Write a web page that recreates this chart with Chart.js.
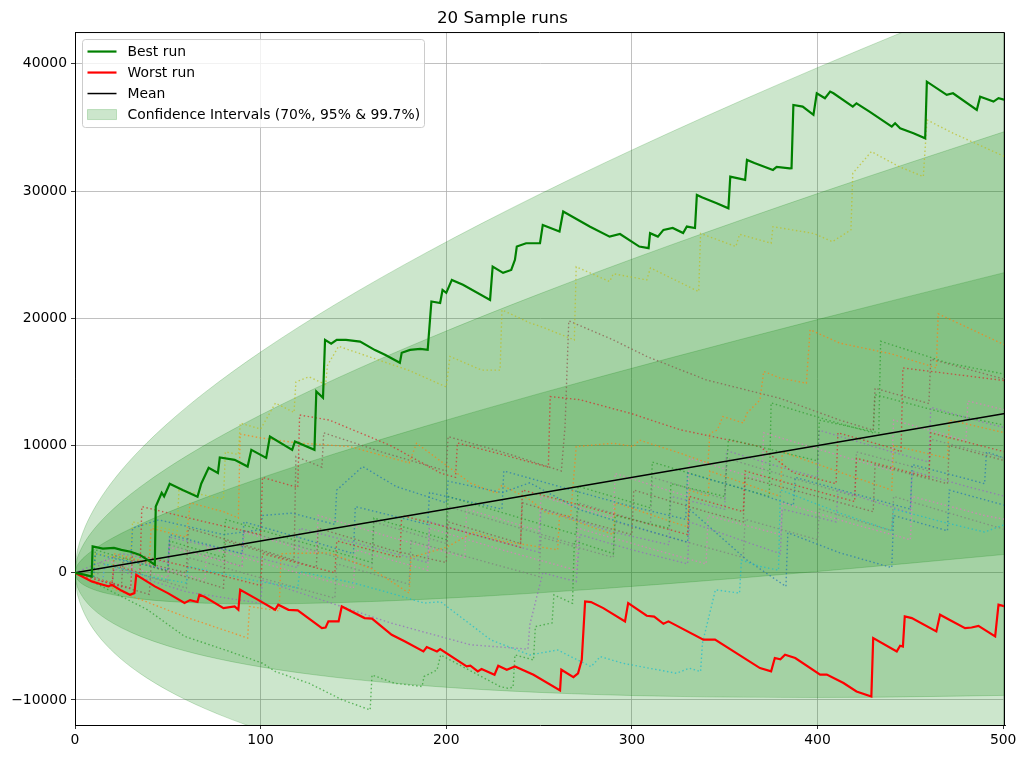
<!DOCTYPE html>
<html>
<head>
<meta charset="utf-8">
<title>20 Sample runs</title>
<script src="https://cdn.jsdelivr.net/npm/chart.js@4.4.1/dist/chart.umd.min.js"></script>
<style>
  html, body { margin: 0; padding: 0; background: #fff; }
  #wrap { width: 1026px; height: 759px; }
</style>
</head>
<body>
<div id="wrap"><canvas id="runsChart" width="1026" height="759"></canvas></div>
<script>
// axis ticks / limits
var xTicks = [0, 100, 200, 300, 400, 500];
var yTicks = [-10000, 0, 10000, 20000, 30000, 40000];
var xMax = 501;
var yMin = -11965;
var yMax = 42500;

// mean line
var meanX = [0, 501];
var meanY = [0, 12525];

// confidence bands
var bandX   = [0, 1, 2, 3, 5, 8, 12, 17, 25, 35, 50, 70, 100, 140, 190, 250, 320, 400, 500, 501];
var ci70Hi  = [0, 520, 750, 932, 1232, 1600, 2015, 2466, 3100, 3803, 4750, 5892, 7450, 9357, 11573, 14077, 16855, 19900, 23569, 23605];
var ci70Lo  = [0, -470, -650, -782, -982, -1200, -1415, -1616, -1850, -2053, -2250, -2392, -2450, -2357, -2073, -1577, -855, 100, 1431, 1445];
var ci95Hi  = [0, 1015, 1450, 1789, 2339, 3000, 3730, 4507, 5575, 6731, 8250, 10034, 12400, 15214, 18396, 21904, 25710, 29800, 34638, 34685];
var ci95Lo  = [0, -965, -1350, -1639, -2089, -2600, -3130, -3657, -4325, -4981, -5750, -6534, -7400, -8214, -8896, -9404, -9710, -9800, -9638, -9635];
var ci997Hi = [0, 1510, 2150, 2646, 3446, 4400, 5445, 6548, 8050, 9659, 11750, 14176, 17350, 21071, 25219, 29731, 34565, 39700, 45707, 45765];
var ci997Lo = [0, -1460, -2050, -2496, -3196, -4000, -4845, -5698, -6800, -7909, -9250, -10676, -12350, -14071, -15719, -17231, -18565, -19700, -20707, -20715];

// best / worst run  [step, value]
var bestRun = [[0,0],[5,-150],[9,-300],[9.5,2070],[15,1900],[21,1960],[25,1800],[30,1650],[35,1400],[43,630],[43.5,5210],[46.7,6290],[48,6000],[51,7000],[58,6500],[66,5970],[68,7000],[72,8250],[77,7850],[78,9060],[86,8880],[93,8350],[95,9660],[103,9030],[105,10710],[117,9660],[118.5,10320],[129,9660],[130,14250],[133.6,13750],[134.7,18300],[138,18000],[141,18300],[146,18300],[153.6,18170],[161.6,17500],[167,17130],[175,16500],[176,17290],[180.5,17520],[186,17600],[190,17520],[192,21320],[196.7,21200],[198,22230],[200,22000],[203,23020],[209,22630],[223.6,21450],[225,24070],[230.6,23570],[235,23800],[237,24600],[238,25640],[243,25900],[250.5,25900],[252,27340],[261,26820],[263,28390],[277.5,27200],[288,26420],[293.6,26630],[304,25640],[309,25510],[309.8,26690],[314,26420],[317,26950],[322,27100],[327.6,26700],[329.6,27210],[334,27100],[335,29700],[338,29500],[345.7,29050],[352,28650],[353,31140],[361,30880],[362,32450],[366,32200],[376,31660],[378,31900],[385,31790],[386,31800],[387,36770],[392,36640],[397.8,35990],[399.6,37690],[404,37300],[406.8,37820],[408.6,37690],[419,36640],[421,36900],[428,36250],[440,35070],[441.8,35330],[444.5,34940],[451.7,34550],[458,34150],[458.9,38600],[469.6,37560],[473,37690],[485.8,36380],[487.6,37420],[490,37300],[494.8,37030],[497.5,37300],[501,37160]];
var worstRun = [[0,0],[9,-680],[14,-900],[18,-1070],[19.8,-940],[25,-1400],[29.6,-1730],[32,-1600],[33,-160],[43,-1070],[50,-1600],[59,-2380],[62,-2150],[66,-2300],[67,-1730],[70,-1900],[80,-2780],[86,-2650],[88,-2910],[89,-1340],[97,-1990],[107.8,-2910],[109.5,-2510],[115,-2910],[120,-2950],[133,-4350],[135,-4300],[136.5,-3820],[142,-3820],[143.7,-2650],[156,-3560],[160,-3600],[170.6,-4870],[177.8,-5400],[187.7,-6180],[189.5,-5840],[195,-6180],[196.7,-6000],[211,-7360],[213,-7300],[217,-7750],[219,-7570],[226,-8010],[228,-7310],[232.6,-7620],[237,-7360],[247,-8010],[261.3,-9250],[262,-7620],[268.5,-8200],[271,-7900],[273,-6840],[274.8,-2250],[278,-2300],[284.6,-2780],[296.3,-3820],[298,-2380],[308,-3380],[312,-3450],[317,-4010],[319.7,-3820],[338.5,-5260],[344.8,-5260],[369,-7490],[375,-7750],[377,-6700],[380,-6800],[382.5,-6440],[388,-6700],[401.4,-8010],[405,-8000],[414,-8670],[421,-9330],[429,-9720],[430,-5130],[442.7,-6180],[444.5,-5740],[446,-5800],[447,-3430],[450.8,-3560],[464,-4610],[466,-3300],[471,-3690],[479.5,-4350],[483,-4300],[486.7,-4170],[495.7,-5000],[497.5,-2510],[501,-2650]];

// the other 18 sample runs (dotted)
var run01 = [[0,0],[10,-250],[11,1500],[30,1000],[31,4000],[55,3300],[56,6500],[80,5800],[81,9500],[88,9300],[89,11760],[100,11300],[108,13340],[118,12600],[119,15000],[126,15400],[135,14800],[136,16300],[142,17800],[180,15900],[200,14600],[202,17000],[219,15930],[229,15930],[230,20660],[245,19640],[251,19350],[269,18300],[270,24050],[288,22890],[290,23500],[308,23020],[310,23960],[336,22100],[337,26670],[356,25640],[358,26600],[375,25900],[376,27200],[398,26670],[408,26020],[418,26950],[419,31400],[429,33100],[444,31920],[457,31140],[459,35590],[473,34550],[501,32700]];
var run02 = [[0,0],[20,-800],[21,1500],[40,800],[41,3500],[60,2800],[62,5500],[80,4800],[88,4300],[89,10900],[100,10600],[120,10200],[148,9920],[180,8640],[184,10180],[213,7050],[227,6260],[230,6900],[245,5740],[254,4690],[267,4430],[270,9920],[290,10180],[301,9920],[304,10430],[326,9400],[341,8630],[342,10960],[346,11220],[349,12280],[360,11780],[362,12550],[369,13580],[371,15820],[380,15300],[394,14900],[396,19100],[412,18050],[440,17200],[464,16100],[465,20350],[501,17900]];
var run03 = [[0,0],[39,-2900],[59,-5000],[81,-6070],[101,-7110],[108,-7770],[126,-8680],[144,-9990],[159,-10780],[160,-8030],[172,-8680],[187,-8940],[188,-8160],[195,-7640],[197,-6460],[229,-8940],[233,-9070],[236,-9000],[237,-6460],[247,-6850],[248,-4230],[257,-3940],[258,-1740],[268,-2400],[269,2500],[290,1500],[291,4500],[320,3500],[321,7000],[350,6000],[352,10500],[380,9500],[400,8800],[401,12000],[433,11000],[434,18200],[470,16500],[501,15600]];
var run04 = [[0,0],[15,-600],[16,700],[40,-300],[60,-800],[61,500],[90,-400],[100,-700],[120,-1200],[121,100],[150,-800],[170,-1600],[188,-2380],[197,-2280],[224,-5280],[245,-6460],[260,-6070],[278,-7380],[283,-6590],[295,-7110],[324,-7900],[331,-7500],[337,-7770],[338,-5540],[345,-1340],[358,-1600],[359,1000],[369,500],[379,200],[380,6520],[412,4690],[440,3300],[441,5000],[470,3900],[490,3200],[501,3800]];
var run05 = [[0,0],[20,-900],[21,600],[35,0],[36,5200],[70,4000],[100,3000],[101,7500],[120,6700],[121,12400],[137,12000],[170,10000],[197,7830],[205,7500],[206,10200],[230,9300],[255,8300],[256,13850],[272,13600],[300,12500],[326,11240],[369,9920],[387,7860],[410,7000],[411,11000],[440,9800],[445,9500],[446,16100],[501,15100]];
var run06 = [[0,0],[30,-1200],[31,1500],[60,500],[100,-1000],[101,1500],[140,0],[141,2500],[175,1200],[176,4500],[200,3600],[240,2000],[241,6500],[270,5400],[300,4200],[330,3000],[331,6000],[360,4800],[361,8000],[390,6800],[420,5600],[421,9000],[460,7500],[461,11000],[501,9500]];
var run07 = [[0,0],[10,-400],[11,1500],[30,800],[31,3500],[45,4160],[80,3000],[100,3380],[101,4500],[117,4690],[140,3800],[141,6500],[155,8350],[173,6780],[200,5500],[201,7200],[230,6300],[245,7070],[272,4950],[301,3640],[330,2400],[331,5000],[362,1000],[383,-1080],[384,3140],[412,1570],[440,400],[441,4500],[470,3300],[471,6500],[501,5300]];
var run08 = [[0,0],[20,-800],[21,1200],[50,200],[51,3000],[90,1500],[91,4000],[120,2800],[150,1500],[151,5200],[190,3800],[191,6300],[230,5000],[231,8000],[280,6000],[300,5200],[329,4200],[330,7830],[360,6600],[387,5300],[388,7500],[420,6200],[450,5000],[451,8500],[480,7400],[490,7000],[491,9500],[501,9000]];
var run09 = [[0,0],[30,-1800],[60,-3500],[93,-5130],[94,-2650],[110,-3000],[111,1500],[137,1570],[160,300],[180,-1600],[181,1200],[200,2000],[215,3200],[230,2500],[260,1800],[261,4500],[290,3000],[291,5500],[330,3600],[331,6500],[341,6000],[342,8000],[380,6000],[381,9500],[420,7500],[440,6500],[441,10000],[470,9000],[471,12000],[501,11000]];
var run10 = [[0,0],[20,-900],[21,300],[60,-1500],[100,-2400],[101,-600],[130,-2000],[170,-3940],[213,-5660],[244,-6000],[245,-4090],[252,0],[270,-700],[272,3000],[300,1800],[330,700],[331,4000],[360,2500],[380,1500],[381,5000],[410,4000],[411,6500],[450,4700],[451,8000],[480,6800],[501,6000]];
var run11 = [[0,0],[25,1500],[50,800],[51,2800],[90,1500],[120,400],[121,3500],[160,2000],[190,800],[191,4000],[220,2800],[250,1600],[251,5000],[290,3200],[320,2200],[321,6000],[350,5000],[351,9600],[380,8300],[400,7500],[401,11200],[440,9500],[460,8700],[461,13000],[490,11800],[501,11400]];
var run12 = [[0,0],[25,-1100],[26,1200],[60,0],[61,3500],[100,1800],[118,1000],[119,9140],[133,8300],[134,11000],[165,9500],[200,8000],[201,10700],[230,9500],[262,8000],[264,11500],[266,19800],[290,18300],[308,17000],[340,15160],[380,13700],[412,12000],[430,11200],[431,14500],[460,13300],[461,16800],[501,15200]];
var run13 = [[0,0],[40,-1700],[41,500],[80,-1200],[81,2500],[130,400],[131,3500],[170,1800],[200,800],[201,4000],[240,2300],[241,5500],[280,3800],[300,3000],[301,6500],[340,4800],[360,4000],[361,7500],[400,6000],[430,4800],[431,8500],[470,7000],[471,10000],[501,8800]];
var run14 = [[0,0],[15,-600],[16,1000],[50,-400],[51,2000],[90,500],[91,3200],[130,1500],[131,4500],[170,2800],[210,1200],[211,5000],[250,3300],[251,6000],[290,4300],[291,7800],[330,6000],[331,9000],[370,7300],[371,11000],[410,9300],[440,8000],[441,12000],[480,10400],[481,13500],[501,12800]];
var run15 = [[0,0],[30,-1300],[31,1000],[70,-600],[71,2000],[110,400],[150,-1200],[151,1800],[190,200],[191,3500],[230,1800],[270,200],[271,3500],[310,1900],[340,700],[341,4500],[380,3000],[381,5500],[420,3800],[450,2600],[451,6000],[490,4500],[501,4200]];
var run16 = [[0,0],[20,-900],[21,500],[60,-1200],[61,1200],[100,-400],[140,-2000],[141,700],[180,-900],[181,2500],[220,900],[250,-300],[251,2800],[290,1200],[291,4000],[330,2400],[360,1200],[361,4200],[400,2600],[401,5000],[440,3300],[441,6000],[480,4300],[501,3400]];
var run17 = [[0,0],[12,-500],[13,800],[50,-700],[51,2200],[90,500],[91,3300],[130,1700],[160,400],[161,4000],[200,2300],[201,5200],[240,3500],[270,2200],[271,5500],[310,3800],[311,7500],[350,5800],[351,9000],[390,7300],[420,6000],[421,9500],[460,8000],[461,10500],[501,9000]];
var run18 = [[0,0],[10,-400],[11,1800],[50,100],[51,2500],[80,1200],[81,4200],[120,2500],[160,800],[161,4300],[200,2600],[201,6000],[240,4300],[270,3000],[271,6800],[310,5100],[311,8700],[350,7000],[374,6000],[375,13350],[410,11800],[430,11000],[431,14000],[470,12500],[501,11600]];

var sampleRuns = [run01, run02, run03, run04, run05, run06, run07, run08, run09, run10, run11, run12, run13, run14, run15, run16, run17, run18];
var sampleColors = ['#bcbd22', '#ff7f0e', '#2ca02c', '#17becf', '#d62728', '#d62728', '#1f77b4', '#1f77b4', '#ff7f0e',
                    '#9467bd', '#9467bd', '#8c564b', '#8c564b', '#e377c2', '#e377c2', '#7f7f7f', '#7f7f7f', '#2ca02c'];

var FONT = 'DejaVu Sans, Verdana, sans-serif';
var bandFill = 'rgba(0,128,0,0.2)';

function pairs(list) {
    return list.map(function(p) { return { x: p[0], y: p[1] }; });
}
function zipXY(xs, ys) {
    return xs.map(function(x, i) { return { x: x, y: ys[i] }; });
}
function withAlpha(hex, a) {
    var n = parseInt(hex.slice(1), 16);
    return 'rgba(' + (n >> 16) + ',' + ((n >> 8) & 255) + ',' + (n & 255) + ',' + a + ')';
}
function bandPair(hi, lo) {
    return [
        { data: zipXY(bandX, hi), borderColor: bandFill, borderWidth: 1, backgroundColor: bandFill, fill: '+1', pointRadius: 0, cubicInterpolationMode: 'monotone' },
        { data: zipXY(bandX, lo), borderColor: bandFill, borderWidth: 1, fill: false, pointRadius: 0, cubicInterpolationMode: 'monotone' }
    ];
}

var datasets = [
    { label: 'Best run', data: pairs(bestRun), borderColor: '#008000', borderWidth: 2.2, pointRadius: 0, fill: false },
    { label: 'Worst run', data: pairs(worstRun), borderColor: '#ff0000', borderWidth: 2.2, pointRadius: 0, fill: false },
    { label: 'Mean', data: zipXY(meanX, meanY), borderColor: '#000', borderWidth: 1.5, pointRadius: 0, fill: false }
];
sampleRuns.forEach(function(r, i) {
    datasets.push({ data: pairs(r), borderColor: withAlpha(sampleColors[i], 0.7), borderWidth: 1.4, borderDash: [1.5, 2.5], pointRadius: 0, fill: false });
});
datasets = datasets.concat(bandPair(ci70Hi, ci70Lo), bandPair(ci95Hi, ci95Lo), bandPair(ci997Hi, ci997Lo));

// top/right spines + matplotlib style legend box
var boxLegend = {
    id: 'boxLegend',
    afterDraw: function(chart) {
        var ctx = chart.ctx, a = chart.chartArea;
        ctx.save();
        ctx.strokeStyle = '#000';
        ctx.lineWidth = 1;
        ctx.beginPath();
        ctx.moveTo(a.left, a.top + 0.5);
        ctx.lineTo(a.right - 0.5, a.top + 0.5);
        ctx.lineTo(a.right - 0.5, a.bottom);
        ctx.stroke();

        var x0 = a.left + 7.5, y0 = a.top + 7.5, w = 342, h = 88, r = 3;
        ctx.beginPath();
        ctx.moveTo(x0 + r, y0);
        ctx.arcTo(x0 + w, y0, x0 + w, y0 + h, r);
        ctx.arcTo(x0 + w, y0 + h, x0, y0 + h, r);
        ctx.arcTo(x0, y0 + h, x0, y0, r);
        ctx.arcTo(x0, y0, x0 + w, y0, r);
        ctx.closePath();
        ctx.fillStyle = 'rgba(255,255,255,0.8)';
        ctx.fill();
        ctx.strokeStyle = '#cccccc';
        ctx.stroke();

        var items = [
            { text: 'Best run', color: '#008000', w: 2.2 },
            { text: 'Worst run', color: '#ff0000', w: 2.2 },
            { text: 'Mean', color: '#000', w: 1.5 },
            { text: 'Confidence Intervals (70%, 95% & 99.7%)', patch: true }
        ];
        ctx.font = '13.9px ' + FONT;
        ctx.textBaseline = 'middle';
        items.forEach(function(it, i) {
            var cy = y0 + 12 + i * 21;
            if (it.patch) {
                ctx.fillStyle = bandFill;
                ctx.fillRect(x0 + 5, cy - 5, 29, 10);
                ctx.strokeStyle = bandFill;
                ctx.lineWidth = 1;
                ctx.strokeRect(x0 + 5, cy - 5, 29, 10);
            } else {
                ctx.strokeStyle = it.color;
                ctx.lineWidth = it.w;
                ctx.beginPath();
                ctx.moveTo(x0 + 5, cy);
                ctx.lineTo(x0 + 34, cy);
                ctx.stroke();
            }
            ctx.fillStyle = '#000';
            ctx.fillText(it.text, x0 + 45, cy + 1);
        });
        ctx.restore();
    }
};

var tickFont = { family: FONT, size: 13.9 };

new Chart(document.getElementById('runsChart'), {
    type: 'line',
    data: { datasets: datasets },
    options: {
        responsive: false,
        animation: false,
        layout: { padding: { top: 0, right: 21, left: 0, bottom: 0 } },
        plugins: {
            legend: { display: false },
            tooltip: { enabled: false },
            title: { display: true, text: '20 Sample runs', color: '#000', font: { family: FONT, size: 16.7, weight: 'normal' }, padding: { top: 9, bottom: 3 } }
        },
        scales: {
            x: {
                type: 'linear', min: 0, max: xMax,
                afterBuildTicks: function(s) { s.ticks = xTicks.map(function(v) { return { value: v }; }); },
                afterFit: function(s) { s.height = 34; },
                ticks: { color: '#000', font: tickFont, padding: 3, maxRotation: 0 },
                grid: { color: '#b0b0b0', lineWidth: 0.8, tickColor: '#000', tickLength: 4 },
                border: { display: true, color: '#000', width: 1 }
            },
            y: {
                type: 'linear', min: yMin, max: yMax,
                afterBuildTicks: function(s) { s.ticks = yTicks.map(function(v) { return { value: v }; }); },
                afterFit: function(s) { s.width = 75; },
                ticks: {
                    color: '#000', font: tickFont, padding: 4,
                    callback: function(v) { return v < 0 ? '\u2212' + Math.abs(v) : String(v); }
                },
                grid: { color: '#b0b0b0', lineWidth: 0.8, tickColor: '#000', tickLength: 4 },
                border: { display: true, color: '#000', width: 1 }
            }
        }
    },
    plugins: [boxLegend]
});
</script>
</body>
</html>
